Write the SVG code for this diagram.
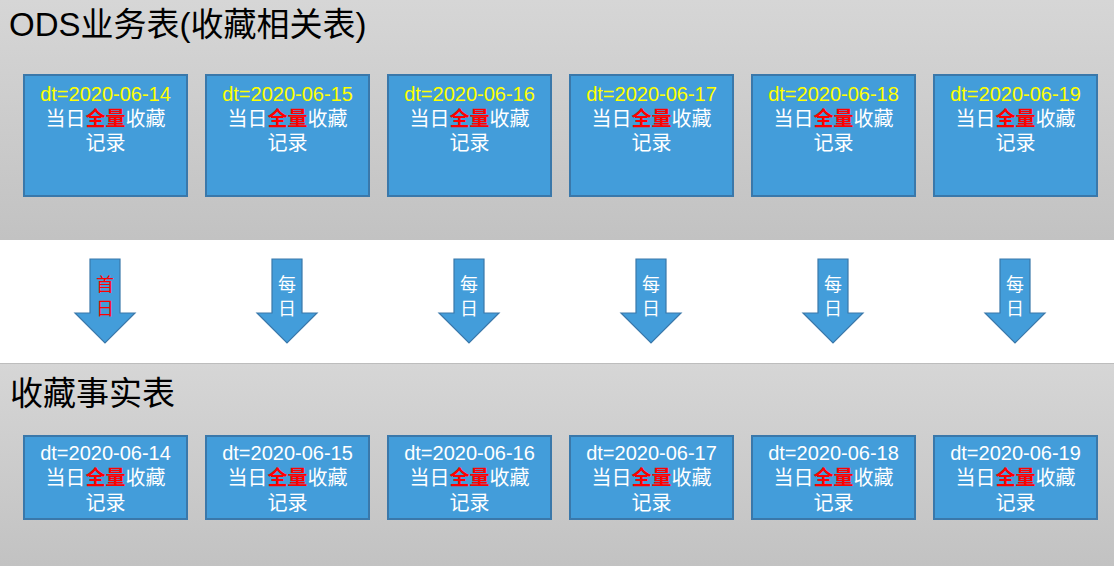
<svg xmlns="http://www.w3.org/2000/svg" width="1114" height="566" viewBox="0 0 1114 566">
<defs>
<linearGradient id="bandTop" x1="0" y1="0" x2="0" y2="1">
<stop offset="0" stop-color="#d6d6d6"/>
<stop offset="1" stop-color="#c2c2c2"/>
</linearGradient>
<linearGradient id="bandBot" x1="0" y1="0" x2="0" y2="1">
<stop offset="0" stop-color="#d6d6d6"/>
<stop offset="1" stop-color="#c2c2c2"/>
</linearGradient>
<path id="arrow" d="M-15,0 H15 V54 H30 L0,84 L-30,54 H-15 Z"/>
</defs>
<style>
text{font-family:"Liberation Sans","Noto Sans CJK SC",sans-serif;}
.box{fill:#439dda;stroke:#3a78aa;stroke-width:2;}
.arr{fill:#439dda;stroke:#3a78aa;stroke-width:1.2;}
.t{font-size:20px;fill:#ffffff;text-anchor:middle;}
.y{fill:#ffff00;}
.r{fill:#ff0000;font-weight:bold;}
.title{font-size:33px;fill:#000000;}
.at{font-size:18px;text-anchor:middle;fill:#ffffff;}
.ar{fill:#ff0000;}
</style>
<rect x="0" y="0" width="1114" height="240" fill="url(#bandTop)"/>
<rect x="0" y="240" width="1114" height="123" fill="#ffffff"/>
<rect x="0" y="363" width="1114" height="203" fill="url(#bandBot)"/>
<line x1="0" y1="363.5" x2="1114" y2="363.5" stroke="#bdbdbd" stroke-width="1"/>
<text class="title" x="9" y="36">ODS业务表(收藏相关表)</text>
<text class="title" x="10" y="405">收藏事实表</text>

<g id="ods-0614"><rect class="box" x="24" y="75" width="163" height="121"/><text class="t" x="105.5" y="101"><tspan class="y">dt=2020-06-14</tspan><tspan x="105.5" dy="25">当日<tspan class="r">全量</tspan>收藏</tspan><tspan x="105.5" dy="24">记录</tspan></text></g>
<g id="ods-0615"><rect class="box" x="206" y="75" width="163" height="121"/><text class="t" x="287.5" y="101"><tspan class="y">dt=2020-06-15</tspan><tspan x="287.5" dy="25">当日<tspan class="r">全量</tspan>收藏</tspan><tspan x="287.5" dy="24">记录</tspan></text></g>
<g id="ods-0616"><rect class="box" x="388" y="75" width="163" height="121"/><text class="t" x="469.5" y="101"><tspan class="y">dt=2020-06-16</tspan><tspan x="469.5" dy="25">当日<tspan class="r">全量</tspan>收藏</tspan><tspan x="469.5" dy="24">记录</tspan></text></g>
<g id="ods-0617"><rect class="box" x="570" y="75" width="163" height="121"/><text class="t" x="651.5" y="101"><tspan class="y">dt=2020-06-17</tspan><tspan x="651.5" dy="25">当日<tspan class="r">全量</tspan>收藏</tspan><tspan x="651.5" dy="24">记录</tspan></text></g>
<g id="ods-0618"><rect class="box" x="752" y="75" width="163" height="121"/><text class="t" x="833.5" y="101"><tspan class="y">dt=2020-06-18</tspan><tspan x="833.5" dy="25">当日<tspan class="r">全量</tspan>收藏</tspan><tspan x="833.5" dy="24">记录</tspan></text></g>
<g id="ods-0619"><rect class="box" x="934" y="75" width="163" height="121"/><text class="t" x="1015.5" y="101"><tspan class="y">dt=2020-06-19</tspan><tspan x="1015.5" dy="25">当日<tspan class="r">全量</tspan>收藏</tspan><tspan x="1015.5" dy="24">记录</tspan></text></g>

<g id="connectors">
<g transform="translate(105,259)"><use href="#arrow" class="arr"/><text class="at ar" x="0" y="32">首</text><text class="at ar" x="0" y="56">日</text></g>
<g transform="translate(287,259)"><use href="#arrow" class="arr"/><text class="at" x="0" y="32">每</text><text class="at" x="0" y="56">日</text></g>
<g transform="translate(469,259)"><use href="#arrow" class="arr"/><text class="at" x="0" y="32">每</text><text class="at" x="0" y="56">日</text></g>
<g transform="translate(651,259)"><use href="#arrow" class="arr"/><text class="at" x="0" y="32">每</text><text class="at" x="0" y="56">日</text></g>
<g transform="translate(833,259)"><use href="#arrow" class="arr"/><text class="at" x="0" y="32">每</text><text class="at" x="0" y="56">日</text></g>
<g transform="translate(1015,259)"><use href="#arrow" class="arr"/><text class="at" x="0" y="32">每</text><text class="at" x="0" y="56">日</text></g>
</g>

<g id="fact-0614"><rect class="box" x="24" y="436" width="163" height="83"/><text class="t" x="105.5" y="460"><tspan>dt=2020-06-14</tspan><tspan x="105.5" dy="25">当日<tspan class="r">全量</tspan>收藏</tspan><tspan x="105.5" dy="25">记录</tspan></text></g>
<g id="fact-0615"><rect class="box" x="206" y="436" width="163" height="83"/><text class="t" x="287.5" y="460"><tspan>dt=2020-06-15</tspan><tspan x="287.5" dy="25">当日<tspan class="r">全量</tspan>收藏</tspan><tspan x="287.5" dy="25">记录</tspan></text></g>
<g id="fact-0616"><rect class="box" x="388" y="436" width="163" height="83"/><text class="t" x="469.5" y="460"><tspan>dt=2020-06-16</tspan><tspan x="469.5" dy="25">当日<tspan class="r">全量</tspan>收藏</tspan><tspan x="469.5" dy="25">记录</tspan></text></g>
<g id="fact-0617"><rect class="box" x="570" y="436" width="163" height="83"/><text class="t" x="651.5" y="460"><tspan>dt=2020-06-17</tspan><tspan x="651.5" dy="25">当日<tspan class="r">全量</tspan>收藏</tspan><tspan x="651.5" dy="25">记录</tspan></text></g>
<g id="fact-0618"><rect class="box" x="752" y="436" width="163" height="83"/><text class="t" x="833.5" y="460"><tspan>dt=2020-06-18</tspan><tspan x="833.5" dy="25">当日<tspan class="r">全量</tspan>收藏</tspan><tspan x="833.5" dy="25">记录</tspan></text></g>
<g id="fact-0619"><rect class="box" x="934" y="436" width="163" height="83"/><text class="t" x="1015.5" y="460"><tspan>dt=2020-06-19</tspan><tspan x="1015.5" dy="25">当日<tspan class="r">全量</tspan>收藏</tspan><tspan x="1015.5" dy="25">记录</tspan></text></g>
</svg>
